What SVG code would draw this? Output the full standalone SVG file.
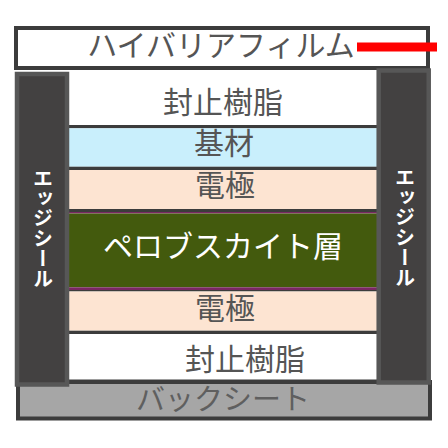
<svg xmlns="http://www.w3.org/2000/svg" width="448" height="448" viewBox="0 0 448 448">
<style>
.lbl{font-family:"Noto Sans CJK JP","Noto Sans",sans-serif;font-size:30px;fill:#555;text-anchor:middle}
.sep{fill:#3c3c3c}
.seal{fill:#434141;stroke:#575757;stroke-width:4.5}
.sealtxt{font-family:"Noto Sans CJK JP","Noto Sans",sans-serif;font-size:20px;fill:#fff;text-anchor:middle;writing-mode:vertical-rl}
</style>
<rect width="448" height="448" fill="#fff"/>
<g id="barrier-film">
<rect x="16" y="28" width="412" height="40" fill="#fff" stroke="#3c3c3c" stroke-width="4"/>
<text class="lbl" x="221" y="56">ハイバリアフィルム</text>
</g>
<g id="layers">
<rect x="68" y="70" width="311" height="55" fill="#fff"/>
<rect class="sep" x="68" y="125" width="311" height="3.3"/>
<rect x="68" y="128.3" width="311" height="38.4" fill="#c9effc"/>
<rect class="sep" x="68" y="166.7" width="311" height="3.3"/>
<rect x="68" y="170" width="311" height="39" fill="#fde4d2"/>
<rect class="sep" x="68" y="209" width="311" height="3"/>
<rect x="68" y="212" width="311" height="1.5" fill="#7a2763"/>
<rect x="68" y="213.5" width="311" height="73.8" fill="#435a0d"/>
<rect x="68" y="287.3" width="311" height="2.7" fill="#7a2763"/>
<rect class="sep" x="68" y="290" width="311" height="1.5"/>
<rect x="68" y="291.5" width="311" height="39.2" fill="#fde4d2"/>
<rect class="sep" x="68" y="330.7" width="311" height="3.3"/>
<rect x="68" y="334" width="311" height="45.5" fill="#fff"/>
<rect class="sep" x="68" y="379.5" width="311" height="3"/>
</g>
<g id="sealing-resin-top"><text class="lbl" x="223" y="113">封止樹脂</text></g>
<g id="substrate"><text class="lbl" x="224" y="154">基材</text></g>
<g id="electrode-top"><text class="lbl" x="225" y="196">電極</text></g>
<g id="perovskite"><text class="lbl" x="223" y="257" style="fill:#fff">ペロブスカイト層</text></g>
<g id="electrode-bottom"><text class="lbl" x="225" y="318.5">電極</text></g>
<g id="sealing-resin-bottom"><text class="lbl" x="245" y="370">封止樹脂</text></g>
<g id="backsheet">
<rect x="18" y="382" width="412" height="36.5" fill="#a6a6a6" stroke="#3c3c3c" stroke-width="4"/>
<text class="lbl" x="223" y="410" style="fill:#5f5f5f;font-size:29px">バックシート</text>
</g>
<g id="edge-seal-left">
<rect class="seal" x="17" y="74" width="50" height="310.5"/>
<text class="sealtxt" x="43" y="228" style="font-weight:bold">エッジシール</text>
</g>
<g id="edge-seal-right">
<rect class="seal" x="378.7" y="70.5" width="50" height="312"/>
<text class="sealtxt" x="405" y="227" style="font-weight:bold">エッジシール</text>
</g>
<g id="connectors">
<line x1="357" y1="47" x2="437" y2="47" stroke="#ff0000" stroke-width="9"/>
</g>
</svg>
